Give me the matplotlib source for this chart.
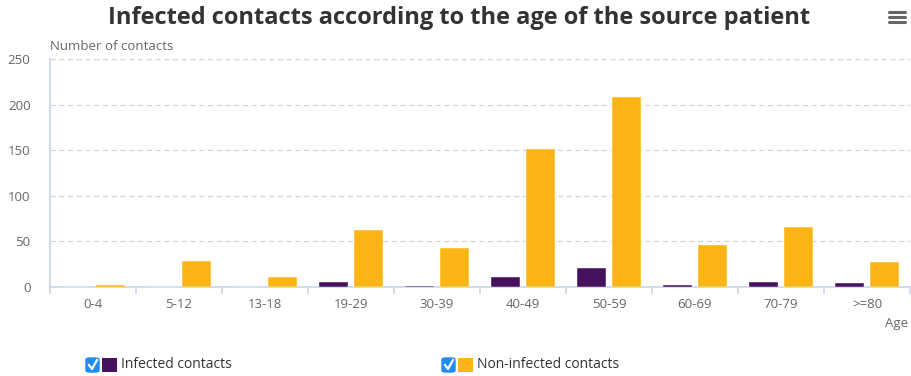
import matplotlib.pyplot as plt
import numpy as np
from matplotlib.patches import FancyBboxPatch, Rectangle
from matplotlib.lines import Line2D

age_groups = ["0-4", "5-12", "13-18", "19-29", "30-39", "40-49", "50-59", "60-69", "70-79", ">=80"]
infected = [0, 0, 0, 5, 1, 11, 21, 2, 6, 4]
non_infected = [2, 28, 11, 63, 43, 151, 208, 46, 66, 27]
y_ticks = [0, 50, 100, 150, 200, 250]

purple = "#46125e"
yellow = "#fdb515"
axis_col = "#ccd6eb"
text_col = "#666666"

plt.rcParams["font.family"] = ["Open Sans", "DejaVu Sans"]

fig = plt.figure(figsize=(9.11, 3.76), dpi=100)
ax = fig.add_axes([50 / 911, 89 / 376, 860 / 911, 228 / 376])

x = np.arange(len(age_groups))
w = 0.34
ax.bar(x - 0.2, infected, width=w, color=purple, edgecolor="white", linewidth=0.3, zorder=3)
ax.bar(x + 0.2, non_infected, width=w, color=yellow, edgecolor="white", linewidth=0.3, zorder=3)

ax.set_xlim(-0.5, len(age_groups) - 0.5)
ax.set_ylim(0, 250)
ax.set_yticks(y_ticks)
ax.set_xticks(x)
ax.set_xticklabels(age_groups)
ax.set_xticks(np.arange(len(age_groups) + 1) - 0.5, minor=True)

ax.grid(axis="y", color="#c8d4e3", linestyle=(0, (4, 3)), linewidth=0.9, zorder=0)
for s in ["top", "right"]:
    ax.spines[s].set_visible(False)
ax.spines["left"].set_color(axis_col)
ax.spines["bottom"].set_color(axis_col)
ax.spines["left"].set_linewidth(1.2)
ax.spines["bottom"].set_linewidth(1.2)

ax.tick_params(axis="y", length=0, pad=14, labelsize=9.5, labelcolor=text_col)
ax.tick_params(axis="x", which="major", length=0, pad=8, labelsize=9.5, labelcolor=text_col)
ax.tick_params(axis="x", which="minor", length=5, color=axis_col, width=1.2)

# axis titles
fig.text(50 / 911, 1 - 46 / 376, "Number of contacts", fontsize=9.5, color=text_col, va="center", ha="left")
fig.text(885 / 911, 1 - 323 / 376, "Age", fontsize=9.5, color=text_col, va="center", ha="left")

fig.text(459 / 911, 1 - 18 / 376, "Infected contacts according to the age of the source patient",
         fontsize=17, fontweight="bold", color="#333333", ha="center", va="center")

# menu icon
for yy in (12, 17, 22):
    fig.add_artist(Line2D([889 / 911, 905 / 911], [1 - yy / 376] * 2, color=text_col, linewidth=2.2,
                          solid_capstyle="round"))

# legend items with checkboxes
def legend_item(x0, color, label):
    yc = 1 - 365 / 376
    box = FancyBboxPatch((x0 / 911, yc - 7 / 376), 13 / 911, 14 / 376,
                         boxstyle="round,pad=0,rounding_size=0.004", facecolor="#1e8cf0",
                         edgecolor="#1e8cf0", transform=fig.transFigure)
    fig.add_artist(box)
    fig.add_artist(Line2D([(x0 + 3) / 911, (x0 + 6) / 911, (x0 + 11) / 911],
                          [yc, yc - 4 / 376, yc + 5 / 376], color="white", linewidth=1.6,
                          transform=fig.transFigure))
    fig.add_artist(Rectangle(((x0 + 16) / 911, yc - 7 / 376), 15 / 911, 14 / 376,
                             facecolor=color, edgecolor="none", transform=fig.transFigure))
    fig.text((x0 + 35) / 911, yc, label, fontsize=10, color="#333333", va="center", ha="left")

legend_item(86, purple, "Infected contacts")
legend_item(442, yellow, "Non-infected contacts")

fig.savefig("out.png", dpi=100, facecolor="white")
